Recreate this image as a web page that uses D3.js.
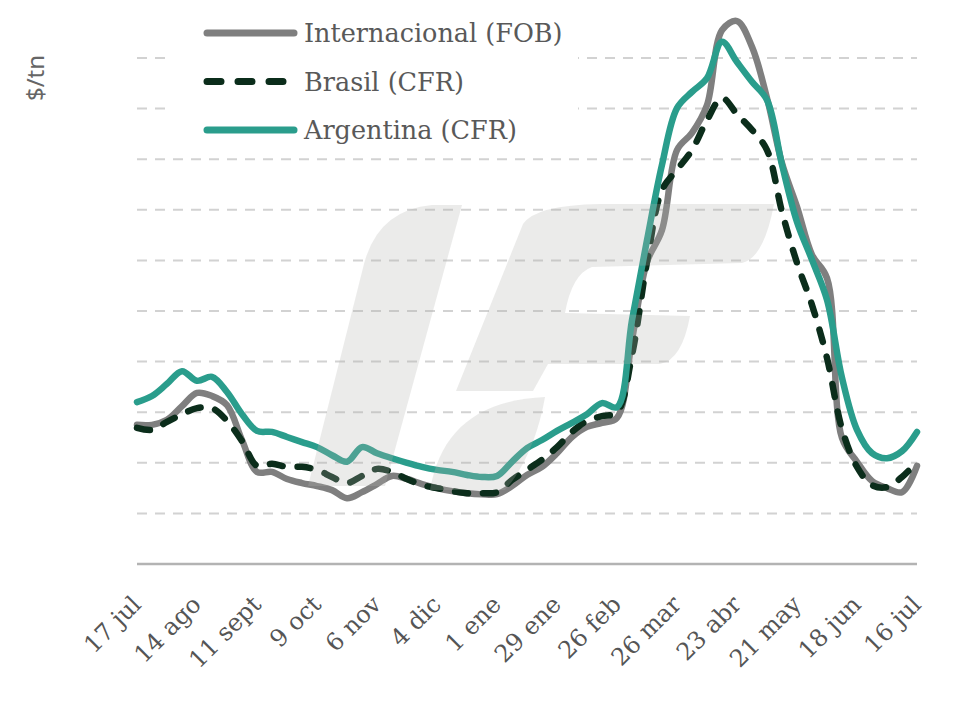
<!DOCTYPE html>
<html>
<head>
<meta charset="utf-8">
<script src="https://cdn.jsdelivr.net/npm/d3@7"></script>
<style>
  body { margin: 0; background: #fff; }
  #root { width: 970px; height: 706px; }
</style>
</head>
<body>
<div id="root"></div>
<script>
// weekly series, 17 jul -> 16 jul (53 weeks)
var labels = ["17 jul", "14 ago", "11 sept", "9 oct", "6 nov", "4 dic", "1 ene",
  "29 ene", "26 feb", "26 mar", "23 abr", "21 may", "18 jun", "16 jul"];

var internacional = [275, 275, 285, 312, 338, 332, 314, 245, 182, 182, 168, 160, 154,
  146, 130, 142, 158, 174, 168, 158, 150, 144, 140, 138, 138, 154, 176, 192, 219, 251,
  271, 279, 289, 443, 597, 660, 818, 852, 907, 1055, 1073, 1022, 921, 792, 706, 611,
  565, 249, 202, 164, 150, 142, 194];

var brasil = [269, 265, 281, 296, 308, 308, 283, 243, 194, 198, 192, 192, 186, 172,
  160, 174, 188, 182, 168, 156, 150, 144, 140, 140, 142, 166, 186, 206, 231, 261, 283,
  292, 300, 413, 597, 739, 779, 818, 877, 921, 889, 858, 818, 696, 595, 512, 407, 267,
  192, 156, 152, 172, 202];

var argentina = [320, 332, 356, 381, 362, 370, 340, 296, 263, 261, 251, 241, 231, 215,
  202, 231, 219, 209, 200, 192, 186, 182, 176, 172, 174, 202, 229, 245, 263, 279, 296,
  318, 310, 482, 640, 789, 901, 933, 960, 1032, 992, 953, 917, 789, 676, 601, 522, 368,
  265, 219, 209, 223, 261];

var gridValues = [100, 200, 300, 400, 500, 600, 700, 800, 900, 1000];

var width = 970;
var height = 706;

var svg = d3
  .select("#root")
  .append("svg")
  .attr("width", width)
  .attr("height", height);

var x = d3.scaleLinear().domain([0, 52]).range([137, 917]);
var y = d3.scaleLinear().domain([0, 1000]).range([564, 58]);

// gridlines
svg
  .append("g")
  .selectAll("line")
  .data(gridValues)
  .enter()
  .append("line")
  .attr("x1", 137)
  .attr("x2", 917)
  .attr("y1", (d) => y(d))
  .attr("y2", (d) => y(d))
  .attr("stroke", "#d2d2d2")
  .attr("stroke-width", 2)
  .attr("stroke-dasharray", "10,8");

// baseline
svg
  .append("line")
  .attr("x1", 137)
  .attr("x2", 917)
  .attr("y1", y(0))
  .attr("y2", y(0))
  .attr("stroke", "#b3b3b3")
  .attr("stroke-width", 2.5);

// x axis labels
var xAxis = d3
  .axisBottom(x)
  .tickValues(d3.range(0, 53, 4))
  .tickSize(0)
  .tickFormat((d) => labels[d / 4]);

var gx = svg.append("g").attr("transform", "translate(0," + y(0) + ")").call(xAxis);
gx.select(".domain").remove();
gx.selectAll("text")
  .attr("x", 0)
  .attr("y", 0)
  .attr("dy", 0)
  .attr("text-anchor", "end")
  .attr("transform", "translate(5,42) rotate(-45)")
  .style("font-family", "DejaVu Serif")
  .style("font-size", "24px")
  .style("fill", "#555");

// y title
svg
  .append("text")
  .attr("transform", "translate(44,78) rotate(-90)")
  .attr("text-anchor", "middle")
  .style("font-family", "Noto Sans")
  .style("font-size", "24px")
  .style("fill", "#666")
  .text("$/tn");

// lines
var line = d3
  .line()
  .x((d, i) => x(i))
  .y((d) => y(d))
  .curve(d3.curveCatmullRom);

var series = [
  { name: "Internacional (FOB)", values: internacional, color: "#7f7f7f", dash: null },
  { name: "Brasil (CFR)", values: brasil, color: "#0b2d1b", dash: "13,15" },
  { name: "Argentina (CFR)", values: argentina, color: "#2a9d8c", dash: null }
];

series.forEach(function (s) {
  svg
    .append("path")
    .datum(s.values)
    .attr("d", line)
    .attr("fill", "none")
    .attr("stroke", s.color)
    .attr("stroke-width", 6.5)
    .attr("stroke-linecap", "round")
    .attr("stroke-linejoin", "round")
    .attr("stroke-dasharray", s.dash);
});

// watermark logo, drawn over the lines
var mark = svg
  .append("g")
  .attr("fill", "rgb(178,178,172)")
  .attr("fill-opacity", 0.26);
mark.append("path").attr("d",
  "M308,486 L364,264 Q378,210 432,205 L462,205 L385,486 Z");
mark.append("path").attr("d",
  "M523,224 Q536,205 600,204 L774,204 Q764,258 742,263 L592,267 Q572,274 565,313 " +
  "L690,316 Q682,360 660,364 L548,364 L533,391 L456,391 Z");
mark.append("path").attr("d",
  "M430,490 C440,432 476,400 545,397 C536,448 516,478 505,490 Z");

// legend
var legend = svg.append("g");
legend
  .append("rect")
  .attr("x", 172)
  .attr("y", 0)
  .attr("width", 406)
  .attr("height", 150)
  .attr("fill", "#fff");

var legendItems = legend
  .selectAll(".legend-item")
  .data(series)
  .enter()
  .append("g")
  .attr("class", "legend-item")
  .attr("transform", (d, i) => "translate(0," + (33 + i * 48.5) + ")");

legendItems
  .append("line")
  .attr("x1", 207)
  .attr("x2", (d) => (d.dash ? 285 : 294))
  .attr("stroke", (d) => d.color)
  .attr("stroke-width", 7)
  .attr("stroke-linecap", "round")
  .attr("stroke-dasharray", (d) => (d.dash ? "14,17" : null));

legendItems
  .append("text")
  .attr("x", 304)
  .attr("y", 9)
  .style("font-family", "DejaVu Serif")
  .style("font-size", "25.5px")
  .style("fill", "#595959")
  .text((d) => d.name);
</script>
</body>
</html>
